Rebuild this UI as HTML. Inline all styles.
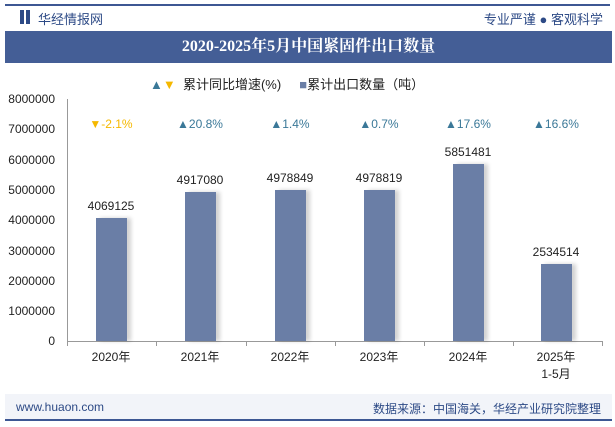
<!DOCTYPE html><html><head><meta charset="utf-8"><style>
body{margin:0;width:615px;height:427px;background:#fff;font-family:"Liberation Sans","Noto Sans CJK SC",sans-serif;position:relative;overflow:hidden}
.a{position:absolute}
.bar{position:absolute;width:31px;background:#6a7ea6;box-shadow:4px 0 4px rgba(0,0,0,.18)}
.v{position:absolute;width:80px;text-align:center;font-size:12px;color:#222}
.p{position:absolute;font-size:12px;color:#3a7898;width:80px;text-align:center}
.yl{position:absolute;right:560px;font-size:12px;color:#222;width:60px;text-align:right}
.xl{position:absolute;width:80px;text-align:center;font-size:12px;color:#222;line-height:17px}
.t{position:absolute;top:341px;width:1px;height:5px;background:#999}
</style></head><body>
<div class="a" style="left:5px;top:4px;width:605px;height:2px;background:#3d5793"></div>
<div class="a" style="left:20px;top:10px;width:4px;height:14px;background:#2d4a86"></div>
<div class="a" style="left:26px;top:10px;width:4px;height:14px;background:#2d4a86"></div>
<div class="a" style="left:38px;top:9px;font-size:13px;color:#2d4a86">华经情报网</div>
<div class="a" style="right:12px;top:9px;font-size:13px;color:#2d4a86">专业严谨 ● 客观科学</div>
<div class="a" style="left:5px;top:31px;width:607px;height:32px;background:#445e96;color:#fff;font-size:16px;font-weight:bold;text-align:center;line-height:32px;font-family:'Liberation Serif','Noto Serif CJK SC',serif">2020-2025年5月中国紧固件出口数量</div>
<div class="a" style="left:150px;top:74px;font-size:13px;color:#222"><span style="color:#3a7898">▲</span><span style="color:#f5b800">▼</span>&nbsp; 累计同比增速(%)&nbsp;&nbsp;&nbsp;&nbsp;&nbsp;<span style="color:#6a7ea6">■</span>累计出口数量（吨）</div>
<div class="yl" style="top:92px">8000000</div><div class="yl" style="top:122px">7000000</div><div class="yl" style="top:153px">6000000</div><div class="yl" style="top:183px">5000000</div><div class="yl" style="top:213px">4000000</div><div class="yl" style="top:244px">3000000</div><div class="yl" style="top:274px">2000000</div><div class="yl" style="top:304px">1000000</div><div class="yl" style="top:334px">0</div>
<div class="a" style="left:67px;top:99px;width:1px;height:243px;background:#999"></div>
<div class="a" style="left:67px;top:341px;width:536px;height:1px;background:#999"></div>
<div class="t" style="left:67px"></div><div class="t" style="left:156px"></div><div class="t" style="left:246px"></div><div class="t" style="left:335px"></div><div class="t" style="left:424px"></div><div class="t" style="left:513px"></div><div class="t" style="left:602px"></div>
<div class="bar" style="left:96px;top:218px;height:123px"></div>
<div class="bar" style="left:185px;top:192px;height:149px"></div>
<div class="bar" style="left:275px;top:190px;height:151px"></div>
<div class="bar" style="left:364px;top:190px;height:151px"></div>
<div class="bar" style="left:453px;top:164px;height:177px"></div>
<div class="bar" style="left:541px;top:264px;height:77px"></div>
<div class="v" style="left:71px;top:199px">4069125</div>
<div class="v" style="left:160px;top:173px">4917080</div>
<div class="v" style="left:250px;top:171px">4978849</div>
<div class="v" style="left:339px;top:171px">4978819</div>
<div class="v" style="left:428px;top:145px">5851481</div>
<div class="v" style="left:516px;top:245px">2534514</div>
<div class="p" style="left:71px;top:117px;color:#f5b800">▼-2.1%</div>
<div class="p" style="left:160px;top:117px">▲20.8%</div>
<div class="p" style="left:250px;top:117px">▲1.4%</div>
<div class="p" style="left:339px;top:117px">▲0.7%</div>
<div class="p" style="left:428px;top:117px">▲17.6%</div>
<div class="p" style="left:516px;top:117px">▲16.6%</div>
<div class="xl" style="left:71px;top:349px">2020年</div>
<div class="xl" style="left:160px;top:349px">2021年</div>
<div class="xl" style="left:250px;top:349px">2022年</div>
<div class="xl" style="left:339px;top:349px">2023年</div>
<div class="xl" style="left:428px;top:349px">2024年</div>
<div class="xl" style="left:516px;top:349px">2025年<br>1-5月</div>
<div class="a" style="left:5px;top:394px;width:607px;height:26px;background:#f2f4f9"></div>
<div class="a" style="left:5px;top:419px;width:607px;height:2px;background:#3d5793"></div>
<div class="a" style="left:16px;top:400px;font-size:12px;color:#2d4a86">www.huaon.com</div>
<div class="a" style="right:14px;top:400px;font-size:12px;color:#2d4a86">数据来源：中国海关，华经产业研究院整理</div>
</body></html>
